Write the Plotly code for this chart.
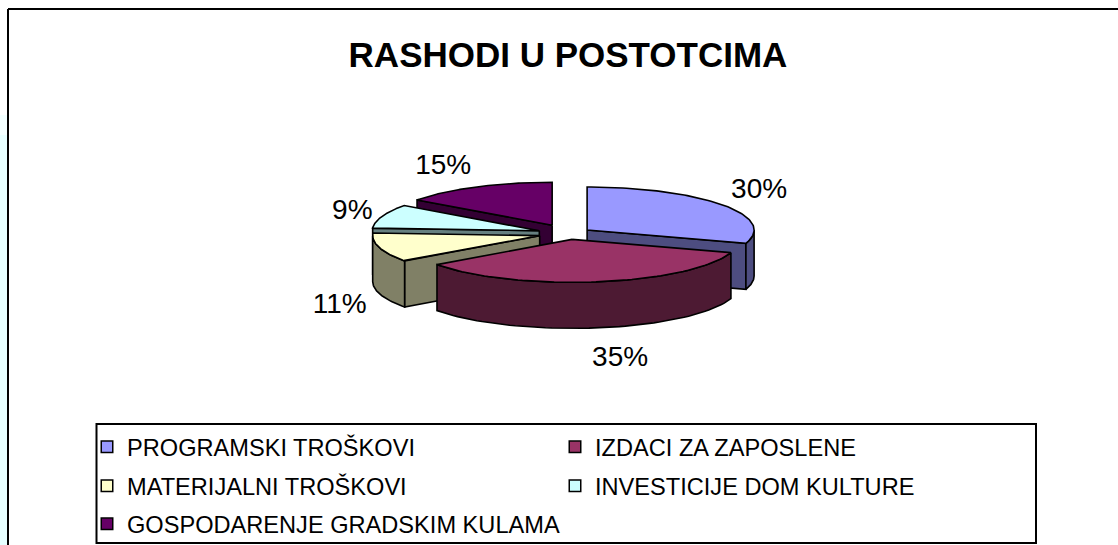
import numpy as np
import plotly.graph_objects as go

# ---- data ----
categories = ["PROGRAMSKI TROŠKOVI", "IZDACI ZA ZAPOSLENE", "MATERIJALNI TROŠKOVI",
              "INVESTICIJE DOM KULTURE", "GOSPODARENJE GRADSKIM KULAMA"]
values = [30, 35, 11, 9, 15]
top_colors = ["#9999FF", "#993366", "#FFFFCC", "#CCFFFF", "#660066"]
side_colors = ["#4D4D80", "#4D1A33", "#808066", "#668080", "#330033"]
explode = [23, 23, 30, 31, 36]
label_offsets = [(172, -39), (48, 120), (-200, 70), (-187, -19), (-109, -58)]

# ---- projection of the tilted pie (pixel-mapped axes) ----
W, H = 1118, 545
cx, cy, rx, ry, depth = 568.5, 233.5, 167.0, 43.0, 46.0

edges = np.cumsum([0] + values) / sum(values) * 360.0
def pt(a, apex, r=1.0, z=0.0):
    t = np.radians(a)
    return apex[0] + r * rx * np.sin(t), apex[1] - r * ry * np.cos(t) + z

fig = go.Figure()
def poly(xs, ys, color):
    fig.add_trace(go.Scatter(x=xs, y=ys, mode="lines", fill="toself", fillcolor=color,
                             line=dict(color="#000000", width=1.6), showlegend=False,
                             hoverinfo="skip"))

apexes = []
for i in range(len(values)):
    mid = np.radians((edges[i] + edges[i + 1]) / 2)
    apexes.append((cx + explode[i] * np.sin(mid),
                   cy - explode[i] * ry / rx * np.cos(mid)))

for i in [4, 0, 3, 2, 1]:        # painter's order, back to front
    a0, a1, apex = edges[i], edges[i + 1], apexes[i]
    # radial faces turned towards the viewer
    for a, vis in ((a0, np.sin(np.radians(a0)) < -1e-6), (a1, np.sin(np.radians(a1)) > 1e-6)):
        if vis:
            rimx, rimy = pt(a, apex)
            poly([apex[0], rimx, rimx, apex[0], apex[0]],
                 [apex[1], rimy, rimy + depth, apex[1] + depth, apex[1]], side_colors[i])
    # outer wall, front half only
    w0, w1 = max(a0, 90.0), min(a1, 270.0)
    if w1 > w0:
        aa = np.linspace(w0, w1, 60)
        xs, ys = pt(aa, apex)
        poly(list(xs) + list(xs[::-1]) + [xs[0]],
             list(ys) + list(ys[::-1] + depth) + [ys[0]], side_colors[i])
    # top face
    aa = np.linspace(a0, a1, 80)
    xs, ys = pt(aa, apex)
    poly([apex[0]] + list(xs) + [apex[0]], [apex[1]] + list(ys) + [apex[1]], top_colors[i])

# percent labels
fig.add_trace(go.Scatter(
    x=[apexes[i][0] + label_offsets[i][0] for i in range(5)],
    y=[apexes[i][1] + label_offsets[i][1] for i in range(5)],
    text=[f"{v}%" for v in values], mode="text", textposition="middle center",
    textfont=dict(family="Liberation Sans", size=28, color="#000000"),
    showlegend=False, hoverinfo="skip"))

# legend swatches: one native legend per row
legend_of = ["legend", "legend", "legend2", "legend2", "legend3"]
for i, name in enumerate(categories):
    fig.add_trace(go.Scatter(x=[None], y=[None], mode="markers", name=name, legend=legend_of[i],
                             marker=dict(symbol="square", size=11.5, color=top_colors[i],
                                         line=dict(color="#000000", width=1.5))))

def leg(row_y, entry=423):
    return dict(orientation="h", x=87 / W, xanchor="left", y=1 - row_y / H, yanchor="middle",
                bgcolor="rgba(0,0,0,0)", borderwidth=0, entrywidth=entry, entrywidthmode="pixels",
                font=dict(family="Liberation Sans", size=23.6, color="#000000"),
                itemclick=False, itemdoubleclick=False)

black = dict(color="#000000", width=2)
fig.update_layout(
    width=W, height=H, autosize=False,
    margin=dict(l=0, r=0, t=0, b=0, autoexpand=False),
    paper_bgcolor="#FFFFFF", plot_bgcolor="rgba(0,0,0,0)",
    xaxis=dict(range=[0, W], visible=False, fixedrange=True),
    yaxis=dict(range=[H, 0], visible=False, fixedrange=True),
    title=dict(text="<b>RASHODI U POSTOTCIMA</b>", x=568 / W, xanchor="center",
               y=1 - 55 / H, yanchor="middle",
               font=dict(family="Liberation Sans", size=35, color="#000000")),
    legend=leg(447), legend2=leg(486), legend3=leg(524, entry=520),
    shapes=[
        dict(type="rect", xref="x", yref="y", x0=0, x1=8, y0=115, y1=135, layer="below",
             fillcolor="#F3FFFF", line=dict(width=0)),
        dict(type="rect", xref="x", yref="y", x0=0, x1=8, y0=135, y1=H, layer="below",
             fillcolor="#E6FFFF", line=dict(width=0)),
        dict(type="line", xref="x", yref="y", x0=8, x1=8, y0=9, y1=H, line=black, layer="below"),
        dict(type="line", xref="x", yref="y", x0=8, x1=W, y0=9, y1=9, line=black, layer="below"),
        dict(type="rect", xref="x", yref="y", x0=96.5, x1=1036, y0=424, y1=543,
             line=black, fillcolor="#FFFFFF", layer="below"),
    ],
)
fig.write_html("out.html", config=dict(displayModeBar=False),
               post_script="document.body.style.margin='0';document.body.style.overflow='hidden';")
